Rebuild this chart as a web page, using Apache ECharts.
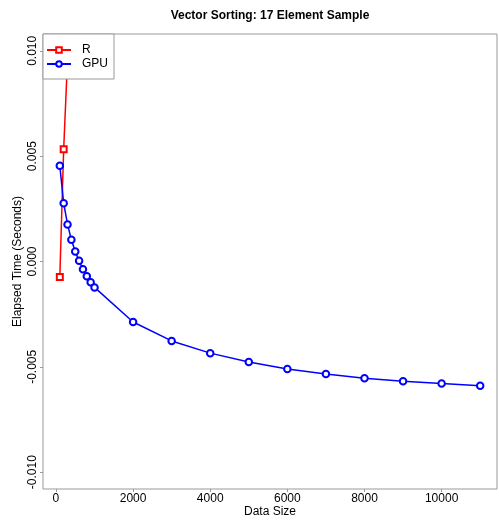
<!DOCTYPE html>
<html>
<head>
<meta charset="utf-8">
<script src="https://cdn.jsdelivr.net/npm/echarts@6/dist/echarts.min.js"></script>
<style>
html,body{margin:0;padding:0;background:#fff;}
#chart{width:499px;height:520px;}
</style>
</head>
<body>
<div id="chart"></div>
<script>
// Data
const dataSize = [100,200,300,400,500,600,700,800,900,1000,2000,3000,4000,5000,6000,7000,8000,9000,10000,11000];
const gpuTime = [0.00454,0.00277,0.00176,0.00103,0.00047,0.00003,-0.00037,-0.00070,-0.00098,-0.00123,-0.00287,-0.00377,-0.00435,-0.00477,-0.00510,-0.00534,-0.00554,-0.00568,-0.00579,-0.00590];
const rSize = [100,200,300];
const rTime = [-0.00073,0.00533,0.0096];
const xTicks = [0,2000,4000,6000,8000,10000];
const yTicks = [-0.01,-0.005,0,0.005,0.01];
const titleText = 'Vector Sorting: 17 Element Sample';

const font = 'Liberation Sans, Arial, Helvetica, sans-serif';
const chart = echarts.init(document.getElementById('chart'), null, {renderer:'canvas'});
const zip = (xs, ys) => xs.map((x,i)=>[x, ys[i]]);

chart.setOption({
  animation:false,
  backgroundColor:'#fff',
  graphic:[{
    type:'text', x:270, y:16,
    style:{text:titleText, font:'bold 12px '+font, fill:'#000', textAlign:'center', textVerticalAlign:'middle'}
  }],
  grid:{left:43, right:2, top:34, bottom:31, show:true, borderColor:'#999', borderWidth:1,
        backgroundColor:'transparent', containLabel:false, outerBoundsMode:'none'},
  legend:{
    data:['R','GPU'], orient:'vertical', left:43, top:34,
    backgroundColor:'#fff', borderColor:'#999', borderWidth:1, borderRadius:0,
    padding:[10,6,9,3], itemWidth:24, itemHeight:7, itemGap:2,
    textStyle:{fontFamily:font, fontSize:12, color:'#000', padding:[0,0,0,6]}
  },
  xAxis:{
    type:'value', min:-336, max:11436,
    name:'Data Size', nameLocation:'middle', nameGap:17, nameMoveOverlap:false,
    nameTextStyle:{fontFamily:font, fontSize:12, color:'#000'},
    axisLine:{show:false, onZero:false},
    axisTick:{show:true, customValues:xTicks, length:3, lineStyle:{color:'#999'}},
    axisLabel:{customValues:xTicks, fontFamily:font, fontSize:12, color:'#000', margin:4,
      formatter:v=>String(v)},
    splitLine:{show:false}
  },
  yAxis:{
    type:'value', min:-0.0108, max:0.0108,
    name:'Elapsed Time (Seconds)', nameLocation:'middle', nameGap:19, nameMoveOverlap:false,
    nameTextStyle:{fontFamily:font, fontSize:12, color:'#000'},
    axisLine:{show:false, onZero:false},
    axisTick:{show:true, customValues:yTicks, length:3, lineStyle:{color:'#999'}},
    axisLabel:{customValues:yTicks, rotate:90, fontFamily:font, fontSize:12, color:'#000', margin:4,
      formatter:v=>v.toFixed(3)},
    splitLine:{show:false}
  },
  series:[
    {name:'R', type:'line', data:zip(rSize,rTime), symbol:'emptyRect', symbolSize:6,
     itemStyle:{color:'#ff0000', borderWidth:1.2}, lineStyle:{color:'#ff0000', width:1.5}, clip:true},
    {name:'GPU', type:'line', data:zip(dataSize,gpuTime), symbol:'emptyCircle', symbolSize:6.5,
     itemStyle:{color:'#0000ff', borderWidth:1.2}, lineStyle:{color:'#0000ff', width:1.5}, clip:true}
  ]
});
</script>
</body>
</html>
